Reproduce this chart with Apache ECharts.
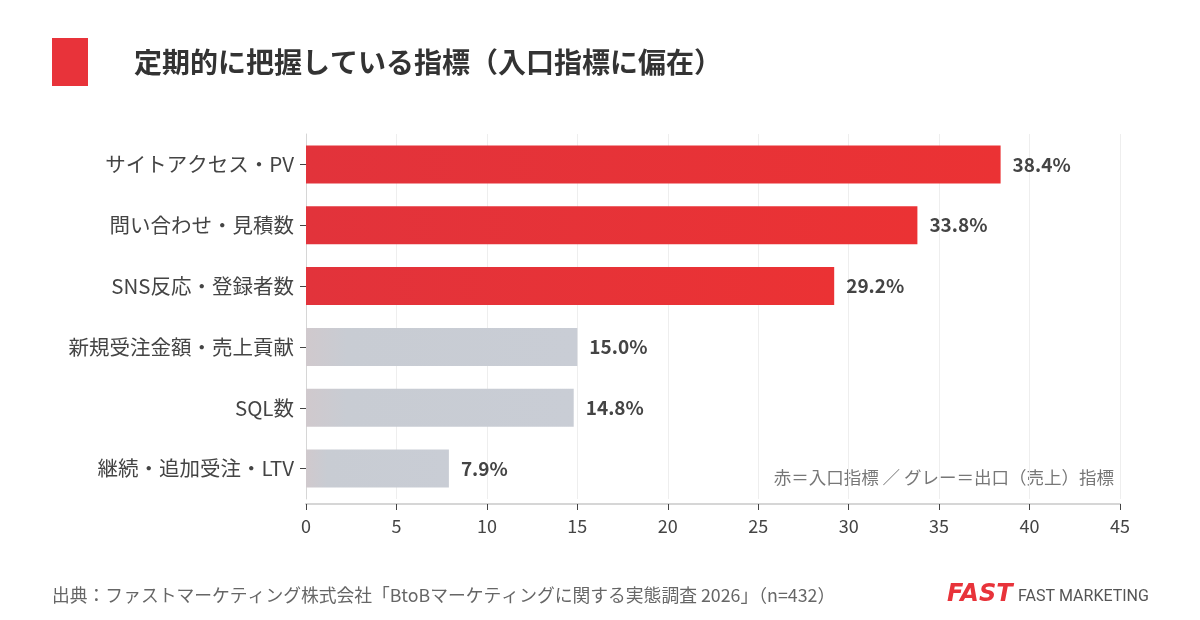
<!DOCTYPE html>
<html>
<head>
<meta charset="utf-8">
<script src="https://cdn.jsdelivr.net/npm/echarts@6/dist/echarts.min.js"></script>
<style>
  html, body { margin: 0; padding: 0; background: #fff; }
  #main { width: 1200px; height: 620px; }
</style>
</head>
<body>
<div id="main"></div>
<script>
const categories = [
  'サイトアクセス・PV',
  '問い合わせ・見積数',
  'SNS反応・登録者数',
  '新規受注金額・売上貢献',
  'SQL数',
  '継続・追加受注・LTV'
];
const values = [38.4, 33.8, 29.2, 15.0, 14.8, 7.9];
// 入口指標 = true（赤）, 出口指標 = false（グレー）
const isEntry = [true, true, true, false, false, false];

const font = '"Noto Sans CJK JP", "Noto Sans", sans-serif';

const red = new echarts.graphic.LinearGradient(0, 0, 1, 0, [
  { offset: 0, color: '#e2333b' },
  { offset: 1, color: '#eb3234' }
]);
const gray = new echarts.graphic.LinearGradient(0, 0, 1, 0, [
  { offset: 0, color: '#d0c9cd' },
  { offset: 0.15, color: '#c8ccd3' },
  { offset: 1, color: '#c9cdd5' }
]);

const chart = echarts.init(document.getElementById('main'));
chart.setOption({
  backgroundColor: '#ffffff',
  textStyle: { fontFamily: font },
  animation: false,
  grid: { left: 306, right: 80, top: 134, bottom: 121 },
  xAxis: {
    type: 'value',
    min: 0,
    max: 45,
    interval: 5,
    offset: 5,
    axisLine: { show: true, lineStyle: { color: '#d6d6d6', width: 2 } },
    axisTick: { show: true, length: 6, lineStyle: { color: '#444' } },
    axisLabel: { color: '#444', fontSize: 18, margin: 13, fontFamily: font },
    splitLine: { show: true, lineStyle: { color: '#eeeeee', width: 1 } }
  },
  yAxis: {
    type: 'category',
    inverse: true,
    data: categories,
    axisLine: { show: true, lineStyle: { color: '#d6d6d6', width: 1 } },
    axisTick: { show: true, alignWithLabel: true, length: 6, lineStyle: { color: '#444' } },
    axisLabel: { color: '#444', fontSize: 20.5, margin: 12, fontFamily: font }
  },
  series: [{
    type: 'bar',
    barWidth: 38,
    data: values.map((v, i) => ({
      value: v,
      itemStyle: { color: isEntry[i] ? red : gray }
    })),
    label: {
      show: true,
      position: 'right',
      distance: 12,
      formatter: p => p.value.toFixed(1) + '%',
      color: '#444',
      fontSize: 19,
      fontWeight: 'bold',
      fontFamily: font
    }
  }],
  graphic: [
    { type: 'rect', left: 52, top: 38, shape: { width: 36, height: 48 }, style: { fill: '#e8333a' } },
    {
      type: 'text', left: 134, top: 48,
      style: { text: '定期的に把握している指標（入口指標に偏在）', fontSize: 28, fontWeight: 'bold', fill: '#333', fontFamily: font }
    },
    {
      type: 'text', right: 86, top: 469,
      style: { text: '赤＝入口指標 ／ グレー＝出口（売上）指標', fontSize: 17.5, fill: '#777', fontFamily: font }
    },
    {
      type: 'text', left: 52, top: 586,
      style: { text: '出典：ファストマーケティング株式会社「BtoBマーケティングに関する実態調査 2026」（n=432）', fontSize: 17.8, fill: '#666', fontFamily: font }
    },
    {
      type: 'text', left: 947, top: 583,
      style: { text: 'FAST', fontSize: 24, fontWeight: 900, fontStyle: 'italic', fill: '#e8333a', fontFamily: '"DejaVu Sans", sans-serif' }
    },
    {
      type: 'text', left: 1018, top: 589,
      style: { text: 'FAST MARKETING', fontSize: 16, fill: '#555', fontFamily: 'Roboto, sans-serif' }
    }
  ]
});
</script>
</body>
</html>
